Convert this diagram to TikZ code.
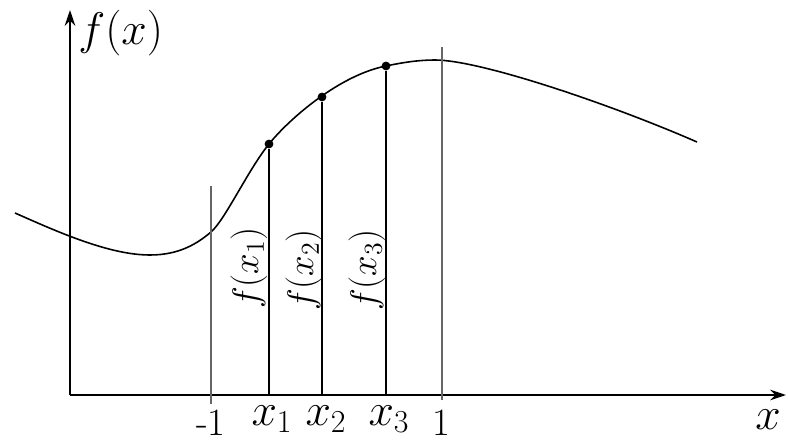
\RequirePackage{fix-cm}
\documentclass[tikz,border=0pt]{standalone}
\usetikzlibrary{arrows.meta}

\begin{document}
\begin{tikzpicture}[
    x=0.02cm, y=-0.02cm,
    axis/.style={-{Stealth[length=9pt,width=6pt]}, line width=1.2pt},
    bound/.style={line width=1.4pt, color=black!60},
    ordinate/.style={line width=0.9pt},
    curve/.style={line width=0.9pt},
    dot/.style={circle, fill, inner sep=0pt, minimum size=5pt},
    lbl/.style={font=\fontsize{26}{29}\selectfont, inner sep=0pt},
    vlbl/.style={font=\fontsize{21}{24}\selectfont, inner sep=0pt, rotate=90},
    tick/.style={font=\fontsize{22}{24}\selectfont, inner sep=0pt},
]
\useasboundingbox (0,0) rectangle (788,442);

% === Axes ===
\coordinate (O) at (70,395);
\coordinate (xend) at (786,395);
\coordinate (yend) at (70,10);
\draw[axis] (O) -- (xend);
\draw[axis] (O) -- (yend);
\node[lbl, anchor=west] (fx) at (78,33) {$f(x)$};
\node[lbl] (xlab) at (768,420) {$x$};

% === Curve ===
\draw[curve] (15,213) .. controls (60,233) and (110,255) .. (150,255)
    .. controls (180,255) and (198,243) .. (211,232)
    .. controls (225,220) and (248,170) .. (269,144)
    .. controls (290,118) and (340,75) .. (386,66)
    .. controls (405,62) and (420,60) .. (435,60)
    .. controls (480,60) and (610,104) .. (697,142);

% === Bounds -1 and 1 ===
\coordinate (lo) at (211,404);
\coordinate (lotop) at (211,186);
\coordinate (hi) at (442,400);
\coordinate (hitop) at (442,47);
\draw[bound] (lo) -- (lotop);
\draw[bound] (hi) -- (hitop);
\node[tick] (m1) at (211,423) {-1};
\node[tick] (p1) at (441,423) {1};

% === Ordinates f(x_1), f(x_2), f(x_3) ===
\node[dot] (q1) at (269,144) {};
\node[dot] (q2) at (322,97) {};
\node[dot] (q3) at (386,66) {};
\coordinate (a1) at (269,395);
\coordinate (a2) at (322,395);
\coordinate (a3) at (386,395);
\draw[ordinate] (a1) -- (q1);
\draw[ordinate] (a2) -- (q2);
\draw[ordinate] (a3) -- (q3);
\node[vlbl] (f1) at (249,268) {$f(x_1)$};
\node[vlbl] (f2) at (304,270) {$f(x_2)$};
\node[vlbl] (f3) at (367,270) {$f(x_3)$};
\node[lbl] (x1) at (272,419) {$x_1$};
\node[lbl] (x2) at (326,419) {$x_2$};
\node[lbl] (x3) at (389,419) {$x_3$};

\end{tikzpicture}
\end{document}
